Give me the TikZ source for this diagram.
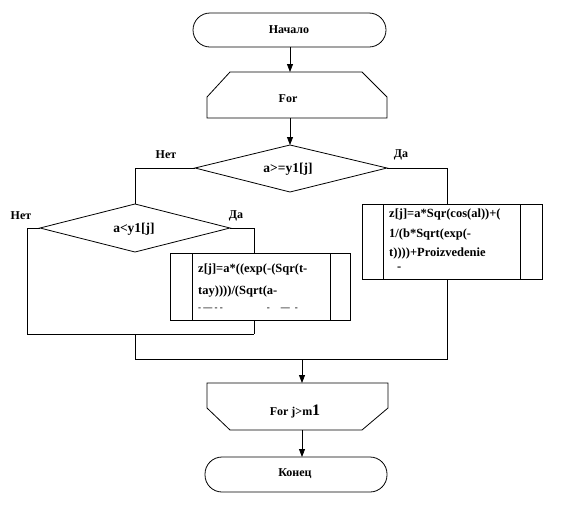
\documentclass[tikz,border=0pt]{standalone}
\usepackage{fontspec}
\setmainfont{Liberation Serif}
\usetikzlibrary{arrows.meta}
\begin{document}
\begin{tikzpicture}[x=1pt,y=-1pt,
  lbl/.style={font=\bfseries\fontsize{12}{14}\selectfont, inner sep=0pt},
  big/.style={font=\bfseries\fontsize{13.5}{15}\selectfont, inner sep=0pt},
  ptx/.style={font=\bfseries\fontsize{12.5}{14}\selectfont, inner sep=0pt, anchor=west},
  ln/.style={line width=0.8pt, line join=miter},
  arr/.style={ln, -{Triangle[length=8pt,width=6pt]}},
  term/.style={ln, rounded corners=17pt}]
\useasboundingbox[fill=white] (0,0) rectangle (570,504);

% ---- coordinates
\coordinate (startB) at (290,47);
\coordinate (forT) at (290,72);
\coordinate (forB) at (290,118);
\coordinate (d1T) at (290,145);
\coordinate (d1L) at (195,168);
\coordinate (d1R) at (387,168);
\coordinate (d1B) at (290,192);
\coordinate (n1c) at (135,168);
\coordinate (y1c) at (447,168);
\coordinate (p1T) at (447,204);
\coordinate (p1B) at (447,279);
\coordinate (d2T) at (135,204);
\coordinate (d2L) at (40,228);
\coordinate (d2R) at (230,228);
\coordinate (d2B) at (135,252);
\coordinate (n2c) at (27,228);
\coordinate (n2d) at (27,334);
\coordinate (j2R) at (254,334);
\coordinate (j2C) at (135,334);
\coordinate (y2c) at (254,228);
\coordinate (p2T) at (254,253);
\coordinate (p2B) at (254,320);
\coordinate (mL) at (135,359);
\coordinate (mR) at (447,359);
\coordinate (mA) at (302,359);
\coordinate (leT) at (302,383);
\coordinate (leB) at (302,430);
\coordinate (endT) at (302,457);

% ---- shapes
\draw[term] (193,13) rectangle (386,47);
\node[lbl] (start) at (289,30) {Начало};

\draw[ln] (230,72) -- (362,72) -- (387,97) -- (387,118) -- (207,118) -- (207,97) -- cycle;
\node[lbl] (for) at (288,99) {For};

\draw[ln] (d1L) -- (d1T) -- (d1R) -- (d1B) -- cycle;
\node[big] (c1) at (288,169) {a>=y1[j]};
\node[lbl] (no1) at (166,155) {Нет};
\node[lbl] (yes1) at (401,155) {Да};

\draw[ln] (d2L) -- (d2T) -- (d2R) -- (d2B) -- cycle;
\node[big] (c2) at (134,229) {a<y1[j]};
\node[lbl] (no2) at (21,216) {Нет};
\node[lbl] (yes2) at (236,216) {Да};

% process 1
\draw[ln] (362,204) rectangle (542,279);
\draw[ln] (383,204) -- (383,279) (520,204) -- (520,279);
\node[ptx] (p1a) at (389,214) {z[j]=a*Sqr(cos(al))+(};
\node[ptx] (p1b) at (389,234) {1/(b*Sqrt(exp(-};
\node[ptx] (p1c) at (389,253) {t))))+Proizvedenie};
\node[ptx] (p1d) at (397,269) {-};

% process 2
\draw[ln] (170,253) rectangle (350,320);
\draw[ln] (192,253) -- (192,320) (330,253) -- (330,320);
\node[ptx] (p2a) at (198,269) {z[j]=a*((exp(-(Sqr(t-};
\node[ptx] (p2b) at (198,292) {tay))))/(Sqrt(a-};
\node[ptx, font=\bfseries\fontsize{9}{10}\selectfont] (p2c) at (198,309) {- --- - -\hspace{44pt}-\hspace{11pt}---\hspace{5pt}-};

% loop end
\draw[ln] (207,383) -- (388,383) -- (388,408) -- (362,430) -- (230,430) -- (207,408) -- cycle;
\node[lbl] (forj) at (295,411) {For j>m\fontsize{16}{16}\selectfont1};

\draw[term] (205,457) rectangle (387,492);
\node[lbl] (end) at (295,474) {Конец};

% ---- connectors
\draw[arr] (startB) -- (forT);
\draw[arr] (forB) -- (d1T);
\draw[ln] (d1L) -- (n1c) -- (d2T);
\draw[ln] (d1R) -- (y1c) -- (p1T);
\draw[ln] (d2L) -- (n2c) -- (n2d) -- (j2R);
\draw[ln] (d2R) -- (y2c) -- (p2T);
\draw[ln] (p2B) -- (j2R);
\draw[ln] (j2C) -- (mL) -- (mR) -- (p1B);
\draw[arr] (mA) -- (leT);
\draw[arr] (leB) -- (endT);
\end{tikzpicture}
\end{document}
